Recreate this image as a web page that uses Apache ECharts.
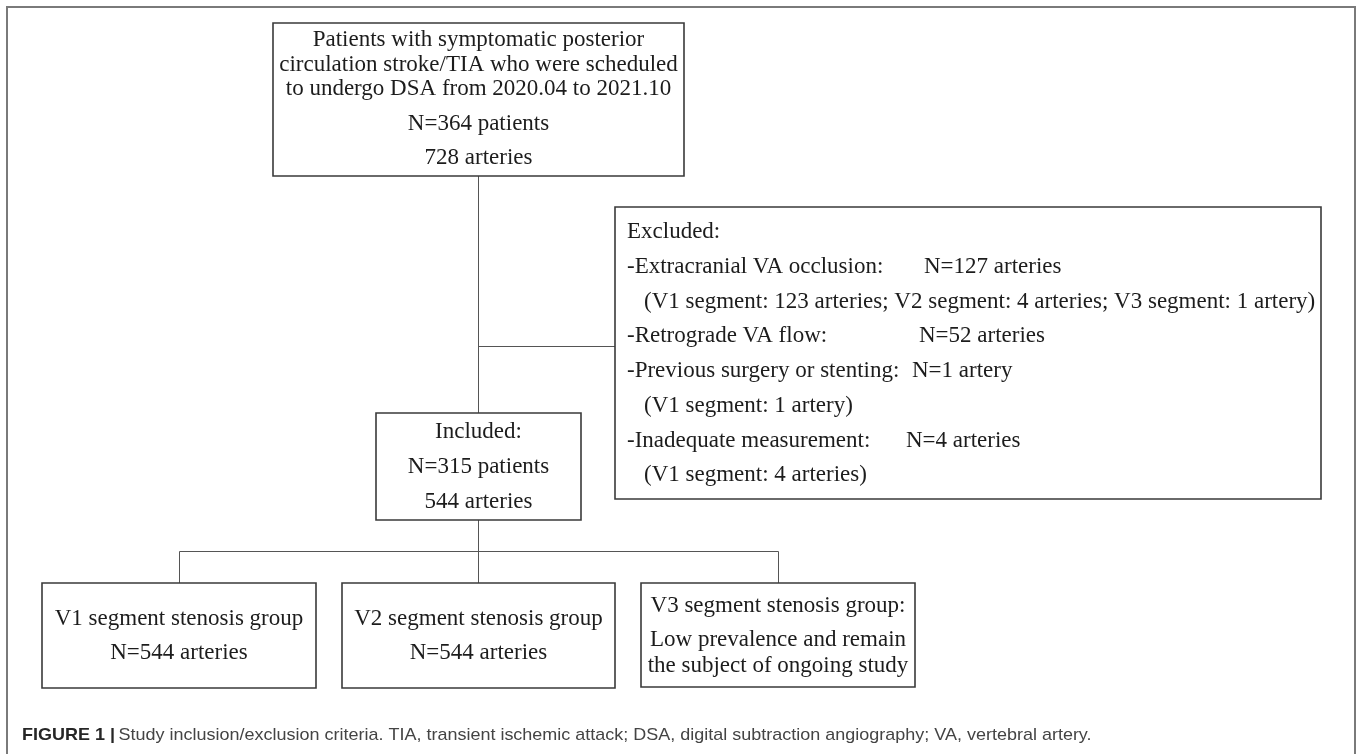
<!DOCTYPE html>
<html>
<head>
<meta charset="utf-8">
<script src="https://cdn.jsdelivr.net/npm/echarts@6/dist/echarts.min.js"></script>
<style>
html,body{margin:0;padding:0;background:#fff;}
#chart{width:1357px;height:754px;}
</style>
</head>
<body>
<div id="chart"></div>
<script>
// ---------- content ----------
const screenedLines = [
  'Patients with symptomatic posterior',
  'circulation stroke/TIA who were scheduled',
  'to undergo DSA from 2020.04 to 2021.10',
  'N=364 patients',
  '728 arteries'
];
const excludedTitle = 'Excluded:';
const exclusionReasons = [
  '-Extracranial VA occlusion:',
  '-Retrograde VA flow:',
  '-Previous surgery or stenting:',
  '-Inadequate measurement:'
];
const exclusionCounts = ['N=127 arteries', 'N=52 arteries', 'N=1 artery', 'N=4 arteries'];
const exclusionDetails = [
  '(V1 segment: 123 arteries; V2 segment: 4 arteries; V3 segment: 1 artery)',
  '',
  '(V1 segment: 1 artery)',
  '(V1 segment: 4 arteries)'
];
const includedLines = ['Included:', 'N=315 patients', '544 arteries'];
const groupLines = [
  ['V1 segment stenosis group', 'N=544 arteries'],
  ['V2 segment stenosis group', 'N=544 arteries'],
  ['V3 segment stenosis group:', 'Low prevalence and remain', 'the subject of ongoing study']
];
const captionBold = 'FIGURE 1 |';
const captionText = 'Study inclusion/exclusion criteria. TIA, transient ischemic attack; DSA, digital subtraction angiography; VA, vertebral artery.';

// ---------- layout (pixels) ----------
const L = {
  frame: {x: 7, y: 7, w: 1348, h: 770},
  top: {x: 273, y: 23, w: 411, h: 153, lineY: [40, 65, 89, 124, 158]},
  excl: {x: 615, y: 207, w: 706, h: 292, textX: 627, indentX: 644, y0: 232, step: 34.75,
         countX: [924, 919, 912, 906]},
  incl: {x: 376, y: 413, w: 205, h: 107, lineY: [432, 467, 502]},
  groups: [
    {x: 42, y: 583, w: 274, h: 105, lineY: [619, 653]},
    {x: 342, y: 583, w: 273, h: 105, lineY: [619, 653]},
    {x: 641, y: 583, w: 274, h: 104, lineY: [606, 640, 666]}
  ],
  mainX: 478.5, sideY: 346.5, branchY: 551.5,
  caption: {x: 22, y: 735, width: 1071}
};

const SERIF = '"Liberation Serif", "Times New Roman", serif';
const SANS = '"Liberation Sans", Arial, sans-serif';
const TEXT_COLOR = '#1c1c1c';
const BOX_COLOR = '#3a3a3a';
const LINK_COLOR = '#555';

const elements = [];

function box(b) {
  elements.push({type: 'rect', shape: {x: b.x, y: b.y, width: b.w, height: b.h},
    style: {fill: '#fff', stroke: BOX_COLOR, lineWidth: 1.6}, z: 2});
}
function txt(s, x, y, align) {
  elements.push({type: 'text', x: x, y: y, z: 3,
    style: {text: s, fontFamily: SERIF, fontSize: 23, fill: TEXT_COLOR,
      align: align || 'center', verticalAlign: 'middle'}});
}
function line(x1, y1, x2, y2) {
  elements.push({type: 'line', shape: {x1: x1, y1: y1, x2: x2, y2: y2},
    style: {stroke: LINK_COLOR, lineWidth: 1}, z: 1});
}

// outer frame
elements.push({type: 'rect', shape: {x: L.frame.x, y: L.frame.y, width: L.frame.w, height: L.frame.h},
  style: {fill: 'none', stroke: '#7a7a7a', lineWidth: 2}, z: 0});

// connectors
const topBottom = L.top.y + L.top.h;
line(L.mainX, topBottom, L.mainX, L.incl.y);
line(L.mainX, L.sideY, L.excl.x, L.sideY);
line(L.mainX, L.incl.y + L.incl.h, L.mainX, L.groups[1].y);
const gCenters = L.groups.map(g => Math.round(g.x + g.w / 2) + 0.5);
line(gCenters[0], L.branchY, gCenters[2], L.branchY);
line(gCenters[0], L.branchY, gCenters[0], L.groups[0].y);
line(gCenters[2], L.branchY, gCenters[2], L.groups[2].y);

// screened box
box(L.top);
screenedLines.forEach((s, i) => txt(s, L.top.x + L.top.w / 2, L.top.lineY[i]));

// excluded box
box(L.excl);
let row = 0;
txt(excludedTitle, L.excl.textX, L.excl.y0 + L.excl.step * row++, 'left');
exclusionReasons.forEach((r, i) => {
  const y = L.excl.y0 + L.excl.step * row++;
  txt(r, L.excl.textX, y, 'left');
  txt(exclusionCounts[i], L.excl.countX[i], y, 'left');
  if (exclusionDetails[i]) {
    txt(exclusionDetails[i], L.excl.indentX, L.excl.y0 + L.excl.step * row++, 'left');
  }
});

// included box
box(L.incl);
includedLines.forEach((s, i) => txt(s, L.incl.x + L.incl.w / 2, L.incl.lineY[i]));

// group boxes
L.groups.forEach((g, gi) => {
  box(g);
  groupLines[gi].forEach((s, i) => txt(s, g.x + g.w / 2, g.lineY[i]));
});

// caption, condensed to the measured width
const CAP_FS = 17;
const cv = document.createElement('canvas').getContext('2d');
cv.font = 'bold ' + CAP_FS + 'px ' + SANS;
const wb = cv.measureText(captionBold + ' ').width;
cv.font = CAP_FS + 'px ' + SANS;
const wr = cv.measureText(captionText).width;
const sx = L.caption.width / (wb + wr);
elements.push({type: 'text', x: L.caption.x, y: L.caption.y, scaleX: sx, originX: 0, z: 3,
  style: {
    text: '{b|' + captionBold + '} {r|' + captionText + '}',
    verticalAlign: 'middle', align: 'left',
    rich: {
      b: {fontFamily: SANS, fontSize: CAP_FS, fontWeight: 'bold', fill: '#262626', color: '#262626'},
      r: {fontFamily: SANS, fontSize: CAP_FS, fill: '#444', color: '#444'}
    }
  }});

const chart = echarts.init(document.getElementById('chart'), null, {renderer: 'canvas'});
chart.setOption({
  backgroundColor: '#fff',
  animation: false,
  graphic: {elements: elements}
});
</script>
</body>
</html>
